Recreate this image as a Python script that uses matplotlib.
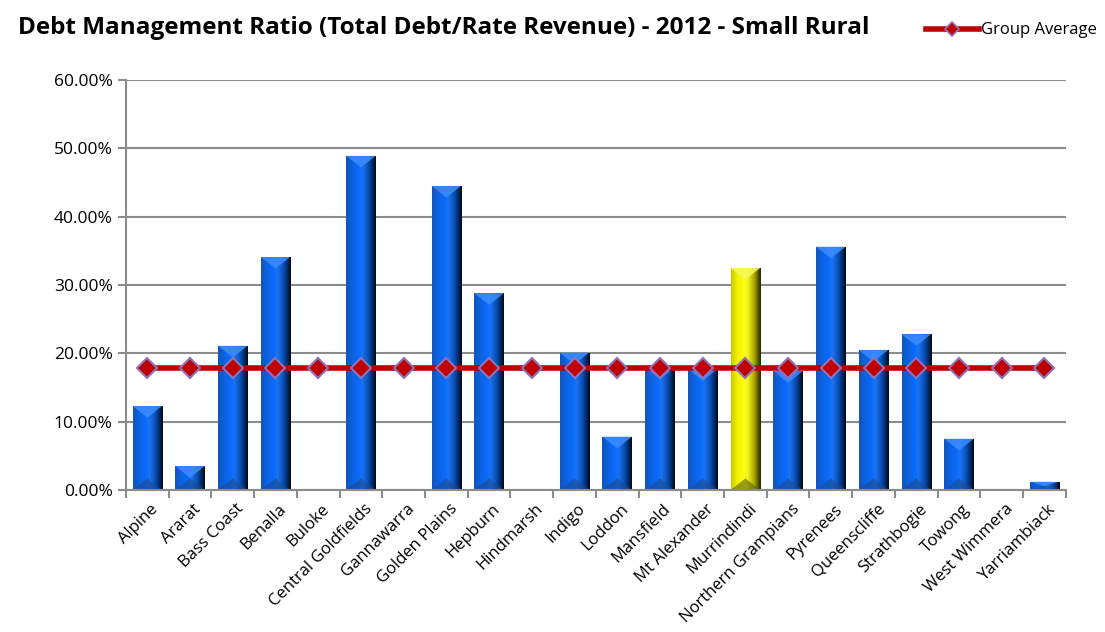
import numpy as np
import matplotlib.pyplot as plt
from matplotlib.colors import LinearSegmentedColormap
from matplotlib.patches import Polygon
from matplotlib.lines import Line2D
from matplotlib.ticker import FuncFormatter, FixedLocator, NullFormatter
from matplotlib.transforms import ScaledTranslation

councils = ["Alpine", "Ararat", "Bass Coast", "Benalla", "Buloke", "Central Goldfields",
            "Gannawarra", "Golden Plains", "Hepburn", "Hindmarsh", "Indigo", "Loddon",
            "Mansfield", "Mt Alexander", "Murrindindi", "Northern Grampians", "Pyrenees",
            "Queenscliffe", "Strathbogie", "Towong", "West Wimmera", "Yarriambiack"]
ratio = [0.123, 0.035, 0.211, 0.341, 0.0, 0.489, 0.0, 0.445, 0.288, 0.0, 0.201, 0.078,
         0.179, 0.177, 0.325, 0.174, 0.356, 0.205, 0.228, 0.075, 0.0, 0.012]
group_avg = 0.178
highlight = "Murrindindi"

plt.rcParams['font.family'] = ['Open Sans', 'DejaVu Sans']

blue_cmap = LinearSegmentedColormap.from_list("blue_bevel", [
    (0.0, "#1553b8"), (0.2, "#0a62e0"), (0.45, "#0a6cff"), (0.55, "#1c74f2"),
    (0.78, "#0747a8"), (1.0, "#000716")])
yellow_cmap = LinearSegmentedColormap.from_list("yellow_bevel", [
    (0.0, "#c8c800"), (0.2, "#f0f000"), (0.45, "#ffff10"), (0.55, "#f4f420"),
    (0.78, "#a8a800"), (1.0, "#202000")])

fig = plt.figure(figsize=(11.05, 6.32), dpi=100, facecolor="white")
ax = fig.add_axes([0.114, 0.2247, 0.8505, 0.6487])

x = np.arange(len(councils))
w = 0.69
bars = ax.bar(x, ratio, width=w, color="#0a62e0", zorder=2)

grad = np.linspace(0, 1, 256).reshape(1, -1)
for xi, v, name, b in zip(x, ratio, councils, bars):
    if v <= 0:
        continue
    cm = yellow_cmap if name == highlight else blue_cmap
    im = ax.imshow(grad, cmap=cm, extent=[xi - w / 2, xi + w / 2, 0, v],
                   aspect="auto", zorder=2.1, interpolation="bicubic")
    im.set_clip_path(b)
    h = min(0.017, v / 2)
    top_col = "#f8f860" if name == highlight else "#3d8cff"
    bot_col = "#5a5a10" if name == highlight else "#1d4a8c"
    ax.add_patch(Polygon([[xi - w / 2, v], [xi + w / 2, v], [xi, v - h]],
                         closed=True, facecolor=top_col, edgecolor="none", alpha=0.85, zorder=2.2))
    ax.add_patch(Polygon([[xi - w / 2, 0], [xi + w / 2, 0], [xi, h]],
                         closed=True, facecolor=bot_col, edgecolor="none", alpha=0.6, zorder=2.2))

ax.plot(x, [group_avg] * len(x), color="#c00000", lw=4, marker="D", markersize=10,
        markerfacecolor="#c00000", markeredgecolor="#8f72b8", markeredgewidth=1.5, zorder=4)

ax.set_xlim(-0.5, len(x) - 0.5)
ax.set_ylim(0, 0.6)
ax.set_yticks(np.arange(0, 0.61, 0.1))
ax.yaxis.set_major_formatter(FuncFormatter(lambda v, p: f"{v * 100:.2f}%"))
ax.grid(axis="y", color="#8c8c8c", lw=1.5, zorder=0)
ax.set_axisbelow(True)

# ticks sit between categories; names are placed by hand below
ax.xaxis.set_major_locator(FixedLocator(np.arange(-0.5, len(x), 1)))
ax.xaxis.set_major_formatter(NullFormatter())
ax.tick_params(axis="x", length=6, color="#8c8c8c", width=1.5, direction="out")
ax.tick_params(axis="y", length=6, color="#8c8c8c", width=1.5, direction="out", labelsize=12.5)

lab_tr = ax.get_xaxis_transform() + ScaledTranslation(0.03, -0.11, fig.dpi_scale_trans)
for xi, name in zip(x, councils):
    ax.text(xi, 0, name, transform=lab_tr, rotation=45, ha="right", va="top",
            rotation_mode="anchor", fontsize=12, clip_on=False)

for s in ["top", "right"]:
    ax.spines[s].set_visible(False)
for s in ["left", "bottom"]:
    ax.spines[s].set_color("#8c8c8c")
    ax.spines[s].set_linewidth(1.5)

fig.text(0.016, 0.955, "Debt Management Ratio (Total Debt/Rate Revenue) - 2012 - Small Rural",
         fontsize=17.5, fontweight="bold", va="center", ha="left")

handle = Line2D([], [], color="#c00000", lw=4, marker="D", markersize=7,
                markerfacecolor="#c00000", markeredgecolor="#8f72b8", markeredgewidth=1.2)
fig.legend([handle], ["Group Average"], loc="center right", bbox_to_anchor=(1.0, 0.952),
           frameon=False, fontsize=12, handlelength=3.2, handletextpad=0.1, borderaxespad=0.1)

fig.savefig("out.png", dpi=100, facecolor="white")
